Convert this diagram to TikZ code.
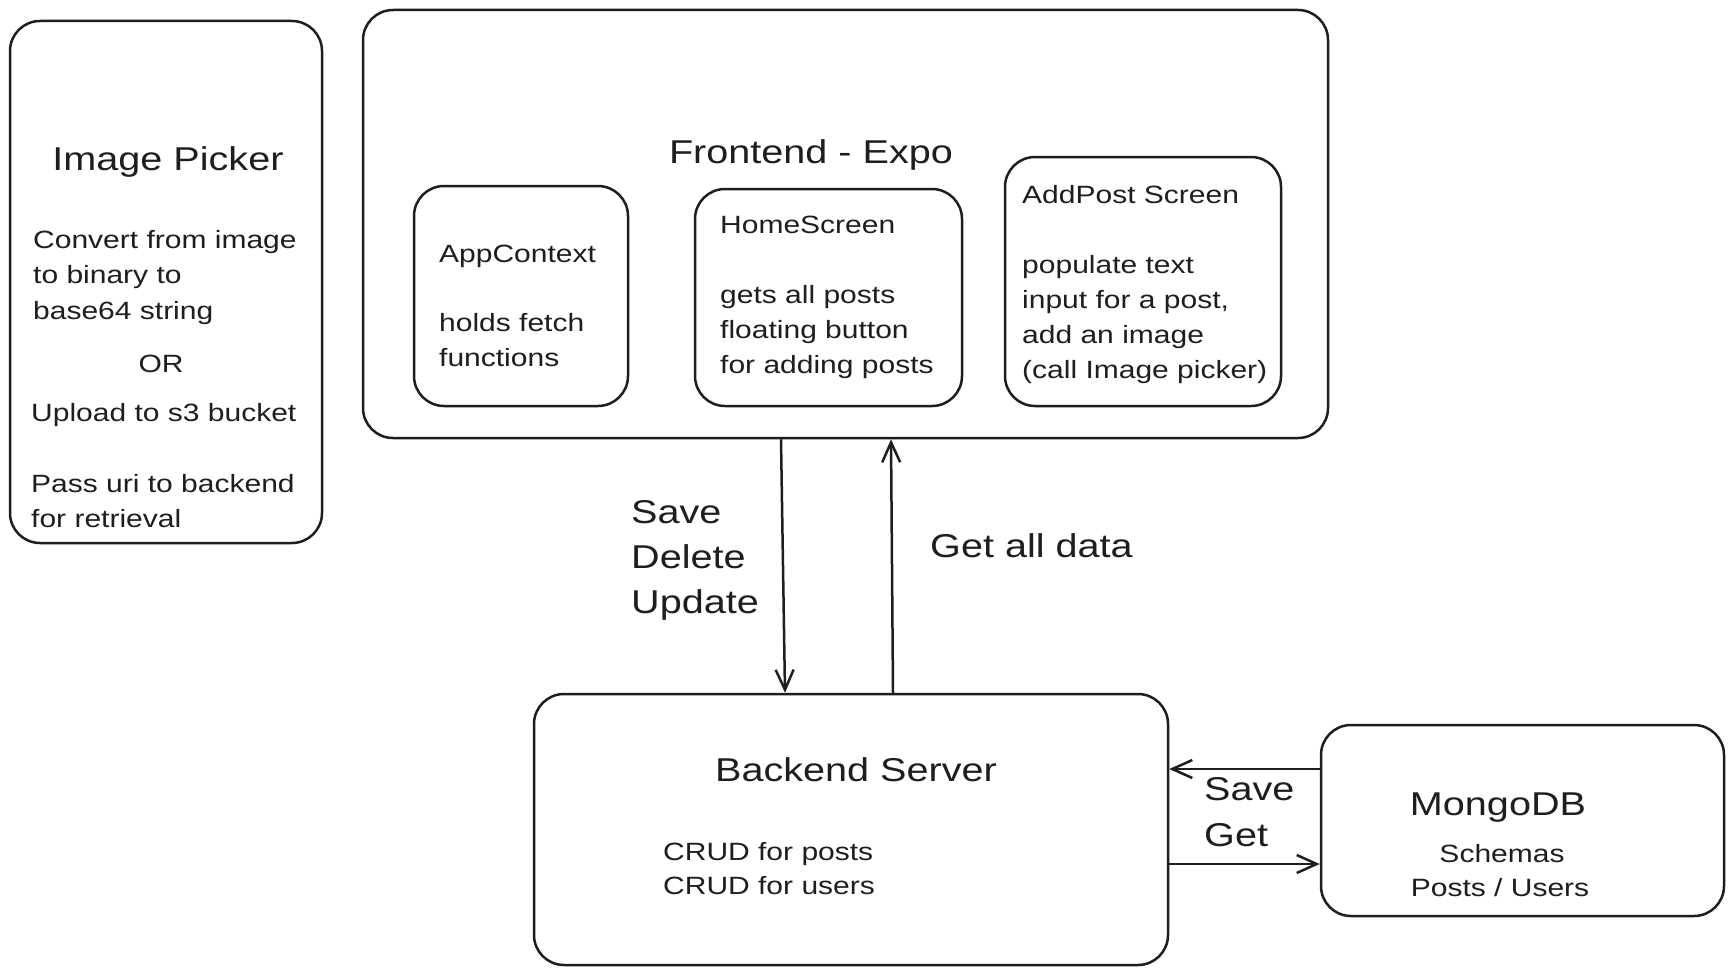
\documentclass[tikz,border=0pt]{standalone}
\usepackage{fontspec}
\usetikzlibrary{arrows.meta}
\newfontfamily\sketchfont[FakeStretch=1.2]{Liberation Sans}
\definecolor{ink}{HTML}{1E1E1E}
\newcommand{\bodysize}{\sketchfont\fontsize{25}{35}\selectfont}
\newcommand{\headsize}{\sketchfont\fontsize{33}{45}\selectfont}
\begin{document}
\begin{tikzpicture}[x=1pt,y=-1pt,
 box/.style={draw=ink, line width=2.5pt, rounded corners=30pt, inner sep=0pt},
 bt/.style={font=\bodysize, text=ink, inner sep=0pt, anchor=base west},
 bc/.style={font=\bodysize, text=ink, inner sep=0pt, anchor=base},
 ht/.style={font=\headsize, text=ink, inner sep=0pt, anchor=base west},
 hc/.style={font=\headsize, text=ink, inner sep=0pt, anchor=base},
 arr/.style={draw=ink, line width=2.5pt, -{Straight Barb[length=20pt,width=18pt]}}
]
\useasboundingbox (0,0) rectangle (1734,974);
\fill[white] (0,0) rectangle (1734,974);

% Image picker
\node[box, minimum width=312pt, minimum height=522pt] (picker) at (166,282) {};
\node[hc] (pickt) at (168,170) {Image Picker};
\node[bt] (pk1) at (33,248) {Convert from image};
\node[bt] (pk2) at (33,283) {to binary to};
\node[bt] (pk3) at (33,319) {base64 string};
\node[bc] (pk4) at (161,372) {OR};
\node[bt] (pk5) at (31,421) {Upload to s3 bucket};
\node[bt] (pk6) at (31,492) {Pass uri to backend};
\node[bt] (pk7) at (31,527) {for retrieval};

% Frontend
\node[box, minimum width=965pt, minimum height=428pt] (front) at (845.5,224) {};
\node[hc] (frontt) at (811,163) {Frontend - Expo};
\node[box, minimum width=214pt, minimum height=220pt] (appctx) at (521,296) {};
\node[bt] (ac1) at (439,262) {AppContext};
\node[bt] (ac2) at (439,331) {holds fetch};
\node[bt] (ac3) at (439,366) {functions};
\node[box, minimum width=267pt, minimum height=217pt] (home) at (828.5,297.5) {};
\node[bt] (hs1) at (720,233) {HomeScreen};
\node[bt] (hs2) at (720,303) {gets all posts};
\node[bt] (hs3) at (720,338) {floating button};
\node[bt] (hs4) at (720,373) {for adding posts};
\node[box, minimum width=276pt, minimum height=249pt] (addpost) at (1143,281.5) {};
\node[bt] (ap1) at (1022,203) {AddPost Screen};
\node[bt] (ap2) at (1022,273) {populate text};
\node[bt] (ap3) at (1022,308) {input for a post,};
\node[bt] (ap4) at (1022,343) {add an image};
\node[bt] (ap5) at (1022,378) {(call Image picker)};

% labels between frontend and backend
\node[ht] (l1) at (631,523) {Save};
\node[ht] (l2) at (631,568) {Delete};
\node[ht] (l3) at (631,613) {Update};
\node[ht] (l4) at (930,557) {Get all data};

% Backend
\node[box, minimum width=634pt, minimum height=271pt] (back) at (851,829.5) {};
\node[hc] (backt) at (856,781) {Backend Server};
\node[bt] (bk1) at (663,860) {CRUD for posts};
\node[bt] (bk2) at (663,894) {CRUD for users};

% MongoDB
\node[box, minimum width=403pt, minimum height=191pt] (mongo) at (1522.5,820.5) {};
\node[hc] (mongot) at (1498,815) {MongoDB};
\node[bc] (mg1) at (1502,862) {Schemas};
\node[bc] (mg2) at (1500,896) {Posts / Users};
\node[ht] (l5) at (1204,800) {Save};
\node[ht] (l6) at (1204,846) {Get};

% connectors
\draw[arr] ([xshift=-64.5pt]front.south) -- ([xshift=-66pt]back.north);
\draw[arr] ([xshift=42pt]back.north) -- ([xshift=45.5pt]front.south);
\draw[arr] ([yshift=51.5pt]mongo.west) -- ([yshift=60.5pt]back.east);
\draw[arr] ([yshift=-34.5pt]back.east) -- ([yshift=-43.5pt]mongo.west);
\end{tikzpicture}
\end{document}
